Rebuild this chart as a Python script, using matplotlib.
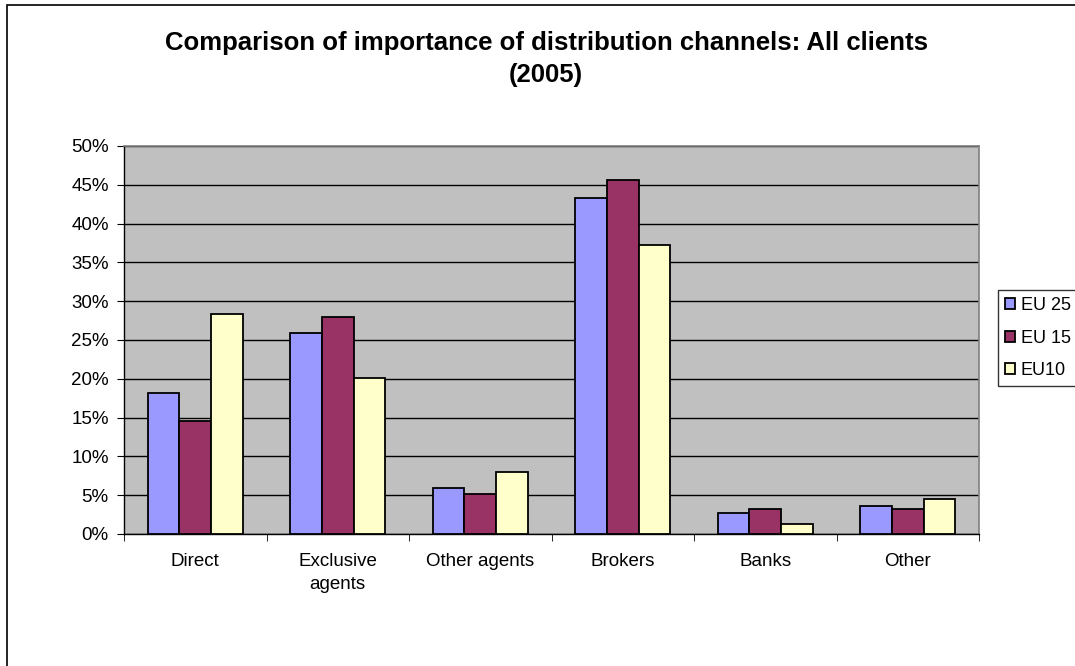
import numpy as np
import matplotlib
matplotlib.use("Agg")
import matplotlib.pyplot as plt
from matplotlib.patches import Rectangle

categories = ["Direct", "Exclusive\nagents", "Other agents", "Brokers", "Banks", "Other"]
series = ["EU 25", "EU 15", "EU10"]
eu25 = [18.2, 25.9, 5.9, 43.3, 2.7, 3.65]
eu15 = [14.5, 28.0, 5.2, 45.6, 3.2, 3.2]
eu10 = [28.4, 20.1, 8.0, 37.2, 1.3, 4.55]
colors = ["#9999FF", "#993366", "#FFFFCC"]
yticks = [0, 5, 10, 15, 20, 25, 30, 35, 40, 45, 50]

plt.rcParams['font.family'] = ['Liberation Sans', 'DejaVu Sans']

fig = plt.figure(figsize=(10.75, 6.66), dpi=100)
fig.patches.append(Rectangle((7/1075, -0.1), 1.2, 1 - 5/666 + 0.1, transform=fig.transFigure,
                             fill=False, edgecolor="black", linewidth=1.2))

ax = fig.add_axes([124/1075, 1 - 534/666, (979 - 124)/1075, (534 - 146)/666])
ax.set_facecolor("#C0C0C0")

x = np.arange(len(categories))
w = 0.222
for i, (vals, name) in enumerate(zip([eu25, eu15, eu10], series)):
    ax.bar(x + (i - 1) * w, vals, w, color=colors[i], edgecolor="black",
           linewidth=1.3, label=name, zorder=3)

ax.set_xlim(-0.5, len(categories) - 0.5)
ax.set_ylim(0, 50)
ax.set_yticks(yticks)
ax.set_yticklabels([f"{t}%" for t in yticks], fontsize=13.5)
ax.yaxis.grid(True, color="black", linewidth=1)
ax.set_axisbelow(True)

ax.set_xticks(x)
ax.set_xticklabels(categories, fontsize=13.5, linespacing=1.45)
ax.set_xticks(np.arange(-0.5, len(categories)), minor=True)
ax.tick_params(axis="x", which="major", length=0, pad=14)
ax.tick_params(axis="x", which="minor", length=5, direction="out", color="black")
ax.tick_params(axis="y", length=5, direction="out", color="black", pad=6)

for s in ["top", "right"]:
    ax.spines[s].set_color("#808080")
    ax.spines[s].set_linewidth(1.2)
for s in ["left", "bottom"]:
    ax.spines[s].set_color("black")
    ax.spines[s].set_linewidth(1)

fig.text(0.508, 1 - 43/666, "Comparison of importance of distribution channels: All clients",
         ha="center", va="center", fontsize=18.5, fontweight="bold")
fig.text(0.508, 1 - 75/666, "(2005)", ha="center", va="center", fontsize=18.5, fontweight="bold")

leg = fig.legend(loc="upper left", bbox_to_anchor=(998/1075, 1 - 290/666), fontsize=13,
                 frameon=True, fancybox=False, edgecolor="black", handlelength=0.55,
                 handleheight=0.55, handletextpad=0.3, labelspacing=0.85,
                 borderpad=0.4, borderaxespad=0)
leg.get_frame().set_linewidth(1)

fig.savefig("out.png", dpi=100)
